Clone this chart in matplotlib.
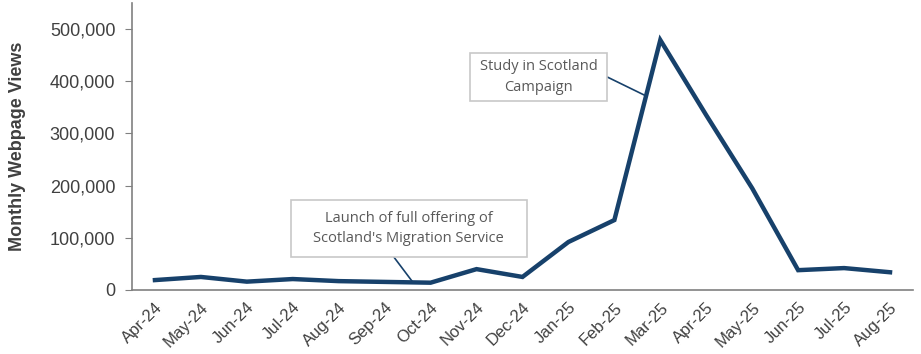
import matplotlib
matplotlib.use('Agg')
from matplotlib import pyplot as plt
from matplotlib.patches import Rectangle
from matplotlib.ticker import FuncFormatter

months = ['Apr-24', 'May-24', 'Jun-24', 'Jul-24', 'Aug-24', 'Sep-24', 'Oct-24', 'Nov-24',
          'Dec-24', 'Jan-25', 'Feb-25', 'Mar-25', 'Apr-25', 'May-25', 'Jun-25', 'Jul-25', 'Aug-25']
views = [19000, 25000, 16000, 21000, 17000, 15500, 14000, 40000,
         25000, 92000, 134000, 479000, 335000, 195000, 38000, 42000, 34000]

launch_label = "Launch of full offering of\nScotland's Migration Service"
campaign_label = 'Study in Scotland\nCampaign'

plt.rcParams['font.family'] = ['Liberation Sans', 'DejaVu Sans']
line_color = '#17416B'
text_color = '#404040'

fig = plt.figure(figsize=(9.21, 3.54), dpi=100)
ax: plt.Axes = fig.add_axes([0.1433, 0.1808, 0.848, 0.8107])

x = list(range(len(months)))
ax.plot(x, views, color=line_color, linewidth=3.2, solid_joinstyle='miter', zorder=3)

ax.set_xlim(-0.5, len(months) - 0.5)
ax.set_ylim(0, 550000)
ax.set_yticks([0, 100000, 200000, 300000, 400000, 500000])
ax.yaxis.set_major_formatter(FuncFormatter(lambda v, p: f'{int(v):,}'))
ax.set_xticks(x, months, rotation=45, ha='right', rotation_mode='anchor')

ax.tick_params(axis='y', labelsize=13, colors=text_color, length=5, color='#808080', pad=7)
ax.tick_params(axis='x', labelsize=12, colors=text_color, length=0, pad=7)
for side in ['top', 'right']:
    ax.spines[side].set_visible(False)
for side in ['left', 'bottom']:
    ax.spines[side].set_color('#808080')
    ax.spines[side].set_linewidth(1.2)

ax.set_ylabel('Monthly Webpage Views', fontsize=13, fontweight='bold', color=text_color, labelpad=17)

box_style = dict(facecolor='white', edgecolor='#C8C8C8', linewidth=1.2, zorder=4)
text_style = dict(ha='center', va='center', fontsize=10.5, color='#595959', zorder=5,
                  linespacing=1.5, family=['Open Sans', 'DejaVu Sans'])

# launch annotation
ax.add_patch(Rectangle((2.96, 63200), 8.09 - 2.96, 172400 - 63200, **box_style))
ax.text((2.96 + 8.09) / 2, (63200 + 172400) / 2, launch_label, **text_style)
ax.annotate('', xy=(5.61, 15300), xytext=(5.2, 63200),
            arrowprops=dict(arrowstyle='-', color=line_color, linewidth=1.2,
                            shrinkA=0, shrinkB=0), zorder=2)

# campaign annotation
ax.add_patch(Rectangle((6.85, 362000), 9.85 - 6.85, 454000 - 362000, **box_style))
ax.text((6.85 + 9.85) / 2, (362000 + 454000) / 2, campaign_label, **text_style)
ax.annotate('', xy=(10.65, 373600), xytext=(9.85, 408000),
            arrowprops=dict(arrowstyle='-', color=line_color, linewidth=1.2,
                            shrinkA=0, shrinkB=0), zorder=2)

fig.savefig('out.png', dpi=100)
